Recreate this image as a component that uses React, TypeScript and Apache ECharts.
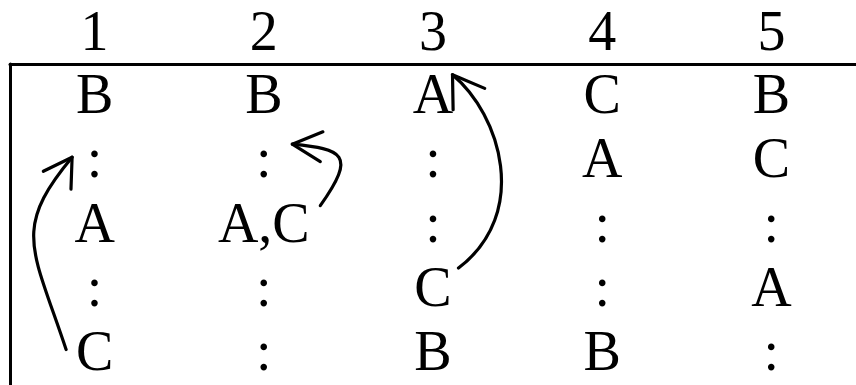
import React, { useEffect, useRef } from "react";
import * as echarts from "echarts";

// ---- data ----
const columnLabels = ["1", "2", "3", "4", "5"];
const rowLabels = ["row1", "row2", "row3", "row4", "row5"];
const column1 = ["B", ":", "A", ":", "C"];
const column2 = ["B", ":", "A,C", ":", ":"];
const column3 = ["A", ":", ":", "C", "B"];
const column4 = ["C", "A", ":", ":", "B"];
const column5 = ["B", "C", ":", "A", ":"];
const columnEntries = [column1, column2, column3, column4, column5];

// arrows: [column index, row index] of the cell they start from / point to
const arrowFrom = [
  [0, 4],
  [1, 2],
  [2, 3],
];
const arrowTo = [
  [0, 1],
  [1, 1],
  [2, 0],
];

// ---- arrow drawing geometry (pixel offsets from the from/to cell centres) ----
const arrowGeometry = [
  { p0: [-28.5, -3.4], p1: [-62.5, -105.4], p2: [-82.5, 68.9], p3: [-22.5, -3.1], head: 123, spread: 31, len: 32 },
  { p0: [56.5, -18.9], p1: [93.5, -70.9], p2: [78.5, -11.1], p3: [28.5, -16.1], head: 5, spread: 27, len: 33 },
  { p0: [25.5, -20.6], p1: [97.5, -75.6], p2: [67.5, 18.6], p3: [19.5, -21.4], head: 56, spread: 33, len: 35 },
];

const FONT = "'Liberation Serif', 'Times New Roman', serif";
const FONT_SIZE = 56;
const TEXT_DY = -2;

export default function App() {
  const ref = useRef<HTMLDivElement>(null);
  useEffect(() => {
    if (!ref.current) return;
    const chart = echarts.init(ref.current, undefined, { renderer: "svg" });

    const cellData: any[] = [];
    columnEntries.forEach((col, c) => {
      col.forEach((txt, r) => {
        cellData.push([c, r, txt]);
      });
    });

    const arrowData = arrowFrom.map((f, i) => [f[0], f[1], arrowTo[i][0], arrowTo[i][1]]);

    chart.setOption({
      animation: false,
      backgroundColor: "#ffffff",
      grid: { left: 10, right: -9, top: 64, bottom: -3, containLabel: false },
      xAxis: {
        type: "category",
        data: columnLabels,
        position: "top",
        boundaryGap: true,
        axisLine: { show: true, lineStyle: { color: "#000", width: 3 } },
        axisTick: { show: false },
        splitLine: { show: false },
        axisLabel: { fontFamily: FONT, fontSize: FONT_SIZE, color: "#000", margin: 5 },
      },
      yAxis: {
        type: "category",
        data: rowLabels,
        inverse: true,
        boundaryGap: true,
        axisLine: { show: true, lineStyle: { color: "#000", width: 3 } },
        axisTick: { show: false },
        splitLine: { show: false },
        axisLabel: { show: false },
      },
      series: [
        {
          type: "custom",
          data: cellData,
          clip: false,
          silent: true,
          encode: { x: 0, y: 1 },
          renderItem: (params: any, api: any) => {
            const pt = api.coord([api.value(0), api.value(1)]);
            const txt = cellData[params.dataIndex][2];
            return {
              type: "text",
              x: pt[0],
              y: pt[1] + TEXT_DY,
              style: {
                text: txt,
                fill: "#000",
                fontFamily: FONT,
                fontSize: FONT_SIZE,
                align: "center",
                verticalAlign: "middle",
              },
            };
          },
        },
        {
          type: "custom",
          data: arrowData,
          clip: false,
          silent: true,
          encode: { x: [0, 2], y: [1, 3] },
          renderItem: (params: any, api: any) => {
            const g = arrowGeometry[params.dataIndex];
            const from = api.coord([api.value(0), api.value(1)]);
            const to = api.coord([api.value(2), api.value(3)]);
            const p0 = [from[0] + g.p0[0], from[1] + g.p0[1]];
            const p1 = [from[0] + g.p1[0], from[1] + g.p1[1]];
            const p2 = [to[0] + g.p2[0], to[1] + g.p2[1]];
            const p3 = [to[0] + g.p3[0], to[1] + g.p3[1]];
            const a1 = ((g.head - g.spread) * Math.PI) / 180;
            const a2 = ((g.head + g.spread) * Math.PI) / 180;
            const b1 = [p3[0] + g.len * Math.cos(a1), p3[1] + g.len * Math.sin(a1)];
            const b2 = [p3[0] + g.len * Math.cos(a2), p3[1] + g.len * Math.sin(a2)];
            const style = { stroke: "#000", lineWidth: 3.2, fill: null, lineCap: "round", lineJoin: "round" };
            return {
              type: "group",
              children: [
                {
                  type: "bezierCurve",
                  shape: {
                    x1: p0[0], y1: p0[1],
                    cpx1: p1[0], cpy1: p1[1],
                    cpx2: p2[0], cpy2: p2[1],
                    x2: p3[0], y2: p3[1],
                  },
                  style,
                },
                {
                  type: "polyline",
                  shape: { points: [b1, p3, b2] },
                  style,
                },
              ],
            };
          },
        },
      ],
    });
    return () => chart.dispose();
  }, []);
  return (
    <div
      ref={ref}
      style={{ position: "fixed", left: 0, top: 0, width: 856, height: 385, background: "#fff" }}
    />
  );
}
